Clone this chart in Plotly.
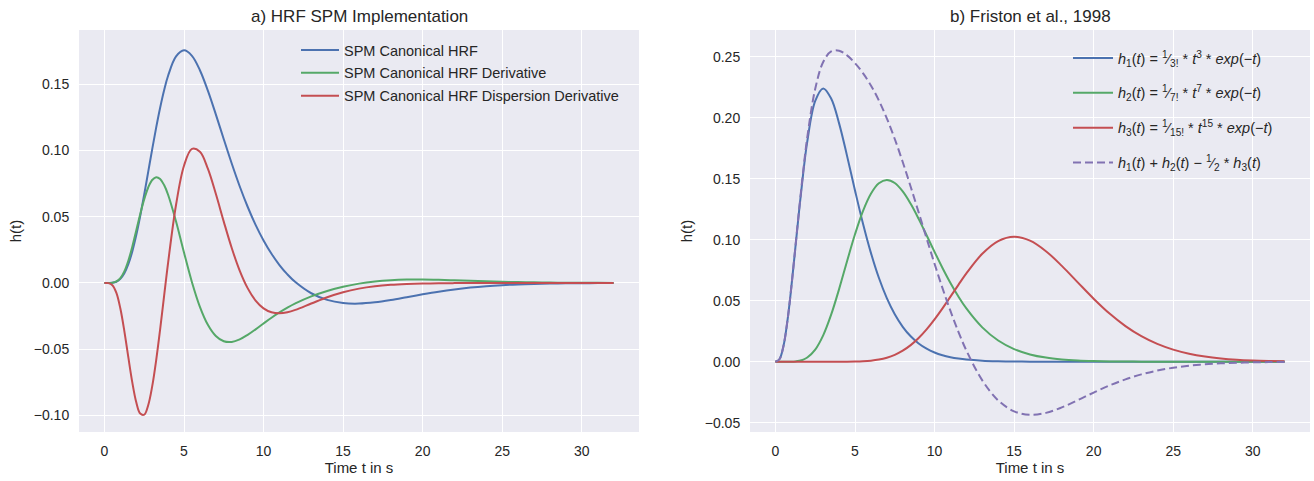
import plotly.graph_objects as go

# ---------------- data ----------------
t_left = [0, 0.25, 0.5, 0.75, 1, 1.25, 1.5, 1.75, 2, 2.25, 2.5, 2.75, 3, 3.25, 3.5, 3.75, 4,
          4.5, 5, 5.5, 6, 6.5, 7, 7.5, 8, 8.5, 9, 9.5, 10, 10.5, 11, 11.5, 12,
          13, 14, 15, 16, 17, 18, 19, 20, 21, 22, 23, 24, 25, 26, 27, 28, 29, 30, 31, 32]

spm_hrf = [0, 0.00001, 0.00016, 0.00093, 0.00307, 0.00729, 0.01412, 0.02377, 0.03609, 0.05065,
           0.06680, 0.08379, 0.10082, 0.11716, 0.13217, 0.14534, 0.15629,
           0.17083, 0.17544, 0.17134, 0.16047, 0.14507, 0.12717, 0.10843, 0.09010, 0.07297, 0.05749,
           0.04384, 0.03205, 0.02200, 0.01352, 0.00648, 0.00068,
           -0.00775, -0.01276, -0.01514, -0.01555, -0.01461, -0.01286, -0.01073, -0.00855, -0.00655,
           -0.00486, -0.00349, -0.00243, -0.00165, -0.00109, -0.00071, -0.00045, -0.00028, -0.00017,
           -0.00010, -0.00006]

spm_deriv = [0, 0.00001, 0.00019, 0.00112, 0.00368, 0.00874, 0.01675, 0.02740, 0.03963, 0.05204,
             0.06322, 0.07202, 0.07768, 0.07981, 0.07844, 0.07386, 0.06656,
             0.04639, 0.02298, 0.00061, -0.01796, -0.03152, -0.03996, -0.04397, -0.04448, -0.04255,
             -0.03913, -0.03496, -0.03053, -0.02621, -0.02224, -0.01863, -0.01541,
             -0.01012, -0.00601, -0.00286, -0.00049, 0.00113, 0.00210, 0.00256, 0.00262, 0.00240,
             0.00203, 0.00165, 0.00127, 0.00094, 0.00067, 0.00046, 0.00031, 0.00020, 0.00013,
             0.00008, 0.00005]

spm_disp = [0, -0.00010, -0.00169, -0.00752, -0.01927, -0.03627, -0.05598, -0.07498, -0.08998,
            -0.09853, -0.09932, -0.09221, -0.07804, -0.05832, -0.03491, -0.00980, 0.01521,
            0.05900, 0.08842, 0.10116, 0.09905, 0.08619, 0.06725, 0.04629, 0.02638, 0.00936,
            -0.00388, -0.01326, -0.01912, -0.02209, -0.02284, -0.02206, -0.02029,
            -0.01550, -0.01074, -0.00694, -0.00425, -0.00249, -0.00141, -0.00078, -0.00041, -0.00022,
            -0.00011, -0.00006, -0.00003, -0.00001, 0, 0, 0, 0, 0, 0, 0]

t_right = [0, 0.25, 0.5, 0.75, 1, 1.25, 1.5, 1.75, 2, 2.5, 3, 3.5, 4, 4.5, 5, 5.5, 6, 6.5, 7,
           7.5, 8, 8.5, 9, 9.5, 10, 10.5, 11, 11.5, 12,
           13, 14, 15, 16, 17, 18, 19, 20, 21, 22, 23, 24, 25, 26, 27, 28, 29, 30, 31, 32]

h1 = [0, 0.00203, 0.01264, 0.03321, 0.06131, 0.09326, 0.12551, 0.15522, 0.18045, 0.21376,
      0.22404, 0.21578, 0.19537, 0.16872, 0.14037, 0.11332, 0.08924, 0.06881, 0.05213,
      0.03889, 0.02863, 0.02083, 0.01499, 0.01070, 0.00757, 0.00531, 0.00371, 0.00257, 0.00177,
      0.00083, 0.00038, 0.00017, 0.00008, 0.00003, 0.00001, 0.00001, 0, 0, 0, 0, 0, 0, 0, 0, 0,
      0, 0, 0, 0]

h2 = [0, 0, 0, 0.00001, 0.00007, 0.00027, 0.00076, 0.00173, 0.00344, 0.00994,
      0.02160, 0.03855, 0.05954, 0.08236, 0.10445, 0.12345, 0.13768, 0.14623, 0.14900,
      0.14648, 0.13959, 0.12942, 0.11712, 0.10371, 0.09008, 0.07688, 0.06458, 0.05347, 0.04368,
      0.02814, 0.01739, 0.01037, 0.00599, 0.00337, 0.00185, 0.00099, 0.00052, 0.00027, 0.00014,
      0.00007, 0.00003, 0.00002, 0.00001, 0, 0, 0, 0, 0, 0]

h3 = [0, 0, 0, 0, 0, 0, 0, 0, 0, 0,
      0, 0, 0.00002, 0.00005, 0.00016, 0.00040, 0.00089, 0.00180, 0.00331,
      0.00565, 0.00903, 0.01359, 0.01943, 0.02651, 0.03472, 0.04375, 0.05335, 0.06300, 0.07239,
      0.08848, 0.09892, 0.10244, 0.09922, 0.09062, 0.07858, 0.06505, 0.05165, 0.03946, 0.02919,
      0.02092, 0.01458, 0.00989, 0.00655, 0.00425, 0.00270, 0.00168, 0.00103, 0.00062, 0.00037]

h_comb = [0, 0.00203, 0.01264, 0.03323, 0.06139, 0.09353, 0.12627, 0.15695, 0.18388, 0.22370,
          0.24565, 0.25433, 0.25490, 0.25108, 0.24474, 0.23657, 0.22647, 0.21415, 0.19948,
          0.18255, 0.16370, 0.14345, 0.12239, 0.10115, 0.08029, 0.06031, 0.04161, 0.02453, 0.00926,
          -0.01527, -0.03169, -0.04068, -0.04354, -0.04191, -0.03742, -0.03153, -0.02530, -0.01946,
          -0.01446, -0.01039, -0.00725, -0.00493, -0.00327, -0.00212, -0.00135, -0.00084, -0.00051,
          -0.00031, -0.00018]

left_names = ["SPM Canonical HRF", "SPM Canonical HRF Derivative",
              "SPM Canonical HRF Dispersion Derivative"]
right_names = [
    "<i>h</i><sub>1</sub>(<i>t</i>) = <sup>1</sup>&#8260;<sub>3!</sub> * <i>t</i><sup>3</sup> * <i>exp</i>(−<i>t</i>)",
    "<i>h</i><sub>2</sub>(<i>t</i>) = <sup>1</sup>&#8260;<sub>7!</sub> * <i>t</i><sup>7</sup> * <i>exp</i>(−<i>t</i>)",
    "<i>h</i><sub>3</sub>(<i>t</i>) = <sup>1</sup>&#8260;<sub>15!</sub> * <i>t</i><sup>15</sup> * <i>exp</i>(−<i>t</i>)",
    "<i>h</i><sub>1</sub>(<i>t</i>) + <i>h</i><sub>2</sub>(<i>t</i>) − <sup>1</sup>&#8260;<sub>2</sub> * <i>h</i><sub>3</sub>(<i>t</i>)",
]
left_ticks_y = [-0.10, -0.05, 0.00, 0.05, 0.10, 0.15]
right_ticks_y = [-0.05, 0.00, 0.05, 0.10, 0.15, 0.20, 0.25]
x_ticks = [0, 5, 10, 15, 20, 25, 30]

BLUE, GREEN, RED, PURPLE = "#4C72B0", "#55A868", "#C44E52", "#8172B2"
FONT = "Liberation Sans, Arial, sans-serif"
TXT = "#262626"

fig = go.Figure()
for i, (ys, name, col) in enumerate(zip([spm_hrf, spm_deriv, spm_disp], left_names, [BLUE, GREEN, RED])):
    fig.add_trace(go.Scatter(x=t_left, y=ys, name=name, mode="lines",
                             line=dict(color=col, width=2, shape="spline", smoothing=1.0),
                             xaxis="x", yaxis="y", legend="legend", legendgroup=f"l{i}"))
for i, (ys, name, col, dash) in enumerate(zip([h1, h2, h3, h_comb], right_names,
                                              [BLUE, GREEN, RED, PURPLE],
                                              ["solid", "solid", "solid", "8px,4px"])):
    fig.add_trace(go.Scatter(x=t_right, y=ys, name=name, mode="lines",
                             line=dict(color=col, width=2, shape="spline", smoothing=1.0, dash=dash),
                             xaxis="x2", yaxis="y2", legend="legend2", legendgroup=f"r{i}"))

W, H = 1314, 481
dom_y = [(H - 432) / H, (H - 30) / H]
ax_common = dict(showgrid=True, gridcolor="white", gridwidth=1.3, zeroline=False,
                 showline=False, ticks="outside", ticklen=6, tickcolor="rgba(0,0,0,0)",
                 tickfont=dict(family=FONT, size=14, color=TXT),
                 title_font=dict(family=FONT, size=15, color=TXT))

fig.update_layout(
    width=W, height=H, margin=dict(l=0, r=0, t=0, b=0),
    paper_bgcolor="white", plot_bgcolor="#EAEAF2",
    font=dict(family=FONT, color=TXT),
    xaxis=dict(domain=[79 / W, 639 / W], range=[-1.6, 33.6], tickvals=x_ticks,
               title=dict(text="Time t in s", standoff=3), anchor="y", **ax_common),
    yaxis=dict(domain=dom_y, range=[-0.1124, 0.1908], tickvals=left_ticks_y, tickformat=".2f",
               title=dict(text="h(t)", standoff=8), anchor="x", **ax_common),
    xaxis2=dict(domain=[750 / W, 1310 / W], range=[-1.6, 33.6], tickvals=x_ticks,
                title=dict(text="Time t in s", standoff=3), anchor="y2", **ax_common),
    yaxis2=dict(domain=dom_y, range=[-0.0576, 0.2719], tickvals=right_ticks_y, tickformat=".2f",
                title=dict(text="h(t)", standoff=8), anchor="x2", **ax_common),
    legend=dict(x=296 / W, y=1 - 34 / H, xanchor="left", yanchor="top",
                bgcolor="rgba(0,0,0,0)", font=dict(family=FONT, size=14.5, color=TXT),
                tracegroupgap=1, itemwidth=38),
    legend2=dict(x=1068 / W, y=1 - 42 / H, xanchor="left", yanchor="top",
                 bgcolor="rgba(0,0,0,0)", font=dict(family=FONT, size=14.5, color=TXT),
                 tracegroupgap=13, itemwidth=40),
    annotations=[
        dict(text="a) HRF SPM Implementation", x=(79 + 639) / 2 / W, y=1 - 17 / H,
             xref="paper", yref="paper", xanchor="center", yanchor="middle", showarrow=False,
             font=dict(family=FONT, size=17, color=TXT)),
        dict(text="b) Friston et al., 1998", x=(750 + 1310) / 2 / W, y=1 - 17 / H,
             xref="paper", yref="paper", xanchor="center", yanchor="middle", showarrow=False,
             font=dict(family=FONT, size=17, color=TXT)),
    ],
)

fig.write_html("out.html")
